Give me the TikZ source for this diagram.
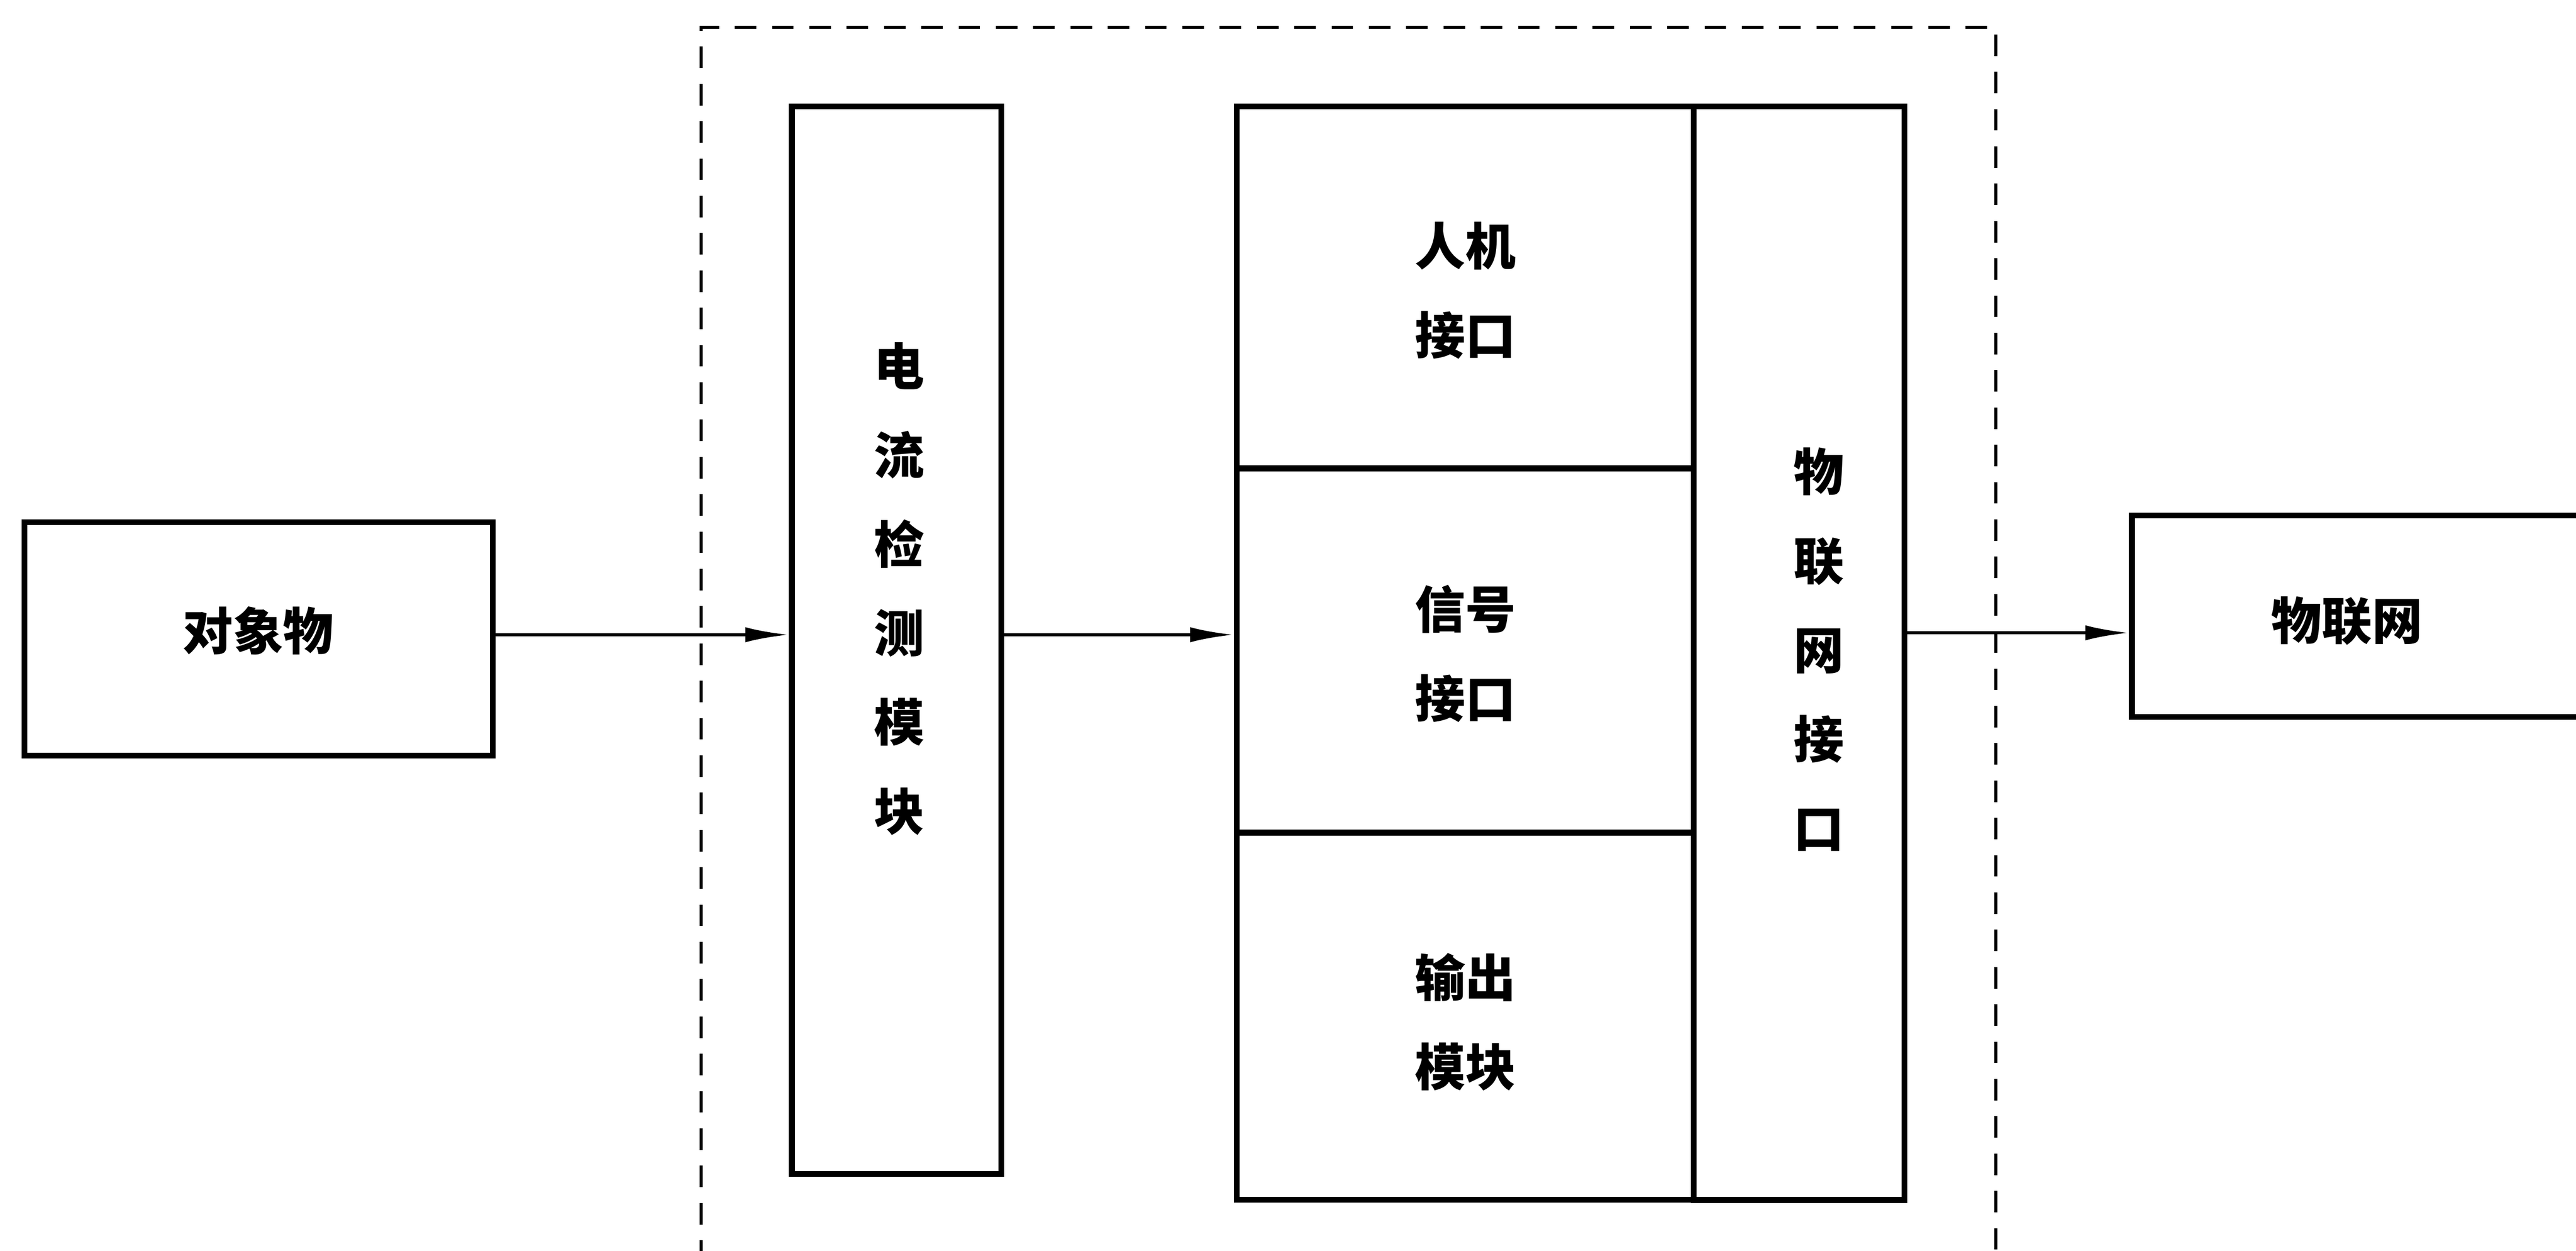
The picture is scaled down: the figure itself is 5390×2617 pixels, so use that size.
\documentclass[tikz,border=0pt]{standalone}
\usepackage{fontspec}
\newfontfamily\cjk{Noto Sans CJK SC}
\usetikzlibrary{arrows.meta}
\begin{document}
\begin{tikzpicture}[x=0.01cm,y=-0.01cm,
  box/.style={draw, line width=3.4pt, inner sep=0pt},
  lbl/.style={font=\cjk\bfseries\fontsize{30}{53}\selectfont, align=center, inner sep=0pt},
  arr/.style={line width=2pt, -{Latex[length=26pt,width=9pt]}},
  frame/.style={line width=1.7pt, dash pattern=on 0.45cm off 0.33cm}]
\useasboundingbox (0,0) rectangle (5390,2617);
\clip (0,0) rectangle (5390,2617);
% boxes
\node[box, minimum width=9.79cm, minimum height=4.88cm] (obj) at (541,1337) {};
\node[box, minimum width=4.38cm, minimum height=22.33cm] (cur) at (1876,1339.5) {};
\node[box, minimum width=9.56cm, minimum height=7.57cm] (hmi) at (3066,601.5) {};
\node[box, minimum width=9.56cm, minimum height=7.62cm] (sig) at (3066,1361) {};
\node[box, minimum width=9.56cm, minimum height=7.68cm] (out) at (3066,2126) {};
\node[box, minimum width=4.41cm, minimum height=22.87cm] (iot) at (3764.5,1366.5) {};
\node[box, minimum width=10.39cm, minimum height=4.21cm] (net) at (4980.5,1289.5) {};
% labels
\node[lbl] (tobj) at (540,1320) {对象物};
\node[lbl] (tcur) at (1882,1232) {电\\流\\检\\测\\模\\块};
\node[lbl] (thmi) at (3066,608) {人机\\接口};
\node[lbl] (tsig) at (3066,1368) {信号\\接口};
\node[lbl] (tout) at (3066,2138) {输出\\模块};
\node[lbl] (tiot) at (3806,1359) {物\\联\\网\\接\\口};
\node[lbl] (tnet) at (4911,1299) {物联网};
% dashed frame (open at the bottom)
\coordinate (f1) at (1467,2640);
\coordinate (f2) at (1467,57);
\coordinate (f3) at (4176,57);
\coordinate (f4) at (4176,2640);
\draw[frame] (f1) -- (f2) -- (f3) -- (f4);
% connectors
\coordinate (r1) at (0,1328);
\coordinate (r3) at (0,1324);
\draw[arr] (obj.east |- r1) -- (cur.west |- r1);
\draw[arr] (cur.east |- r1) -- (sig.west |- r1);
\draw[arr] (iot.east |- r3) -- (net.west |- r3);
\end{tikzpicture}
\end{document}
